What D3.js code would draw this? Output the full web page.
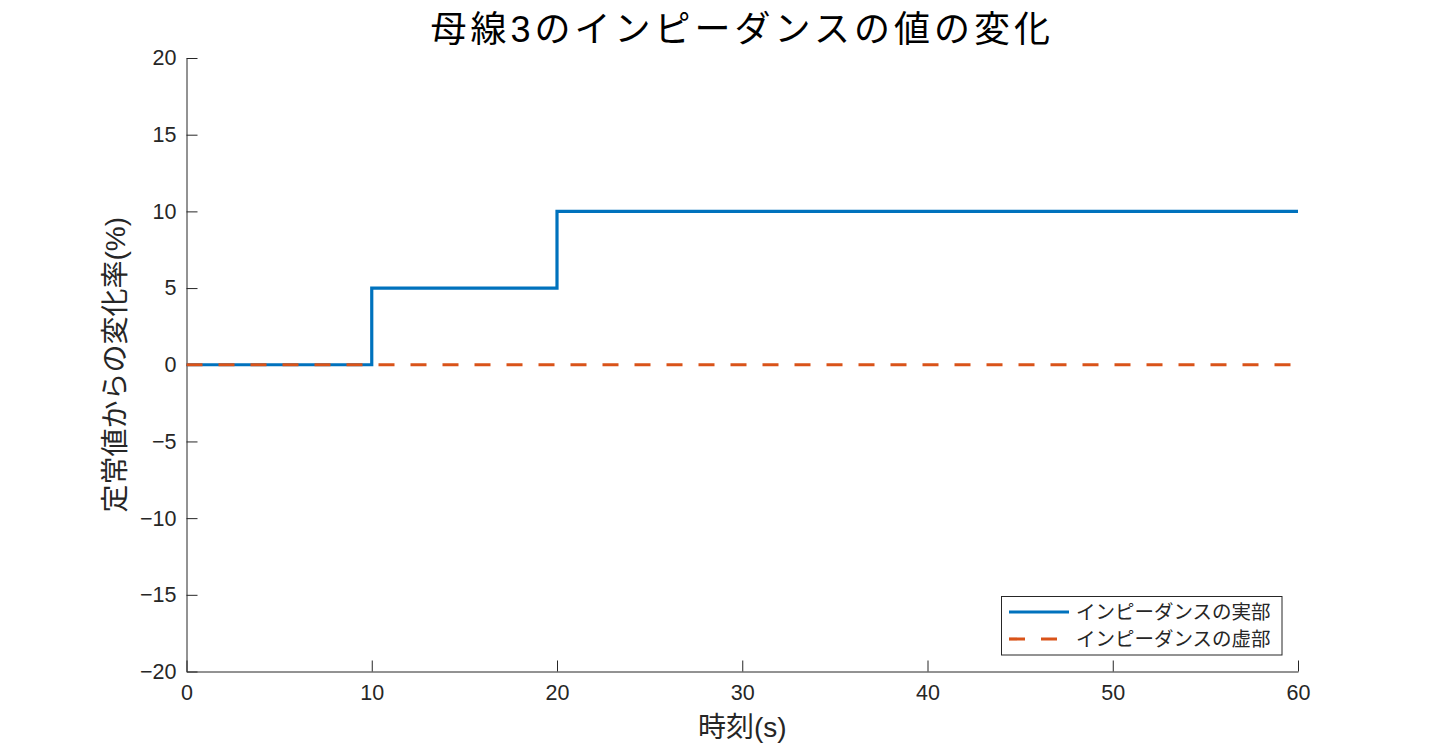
<!DOCTYPE html>
<html><head><meta charset="utf-8">
<script src="https://cdn.jsdelivr.net/npm/d3@7"></script>
<style>
body{margin:0;background:#fff;}
text{font-family:"Liberation Sans","Noto Sans CJK JP",sans-serif;fill:#262626;}
</style></head>
<body><svg id="c" width="1434" height="754"></svg>
<script>
const title = "母線3のインピーダンスの値の変化";
const xLabel = "時刻(s)";
const yLabel = "定常値からの変化率(%)";
const seriesNames = ["インピーダンスの実部","インピーダンスの虚部"];
const realT = [0,10,10,20,20,60];
const realV = [0,0,5,5,10,10];
const imagT = [0,60];
const imagV = [0,0];
const xTicks = [0,10,20,30,40,50,60];
const yTicks = [-20,-15,-10,-5,0,5,10,15,20];

const svg = d3.select("#c");
const L=186.5, R=1298, T=58, B=671.5;
const x = d3.scaleLinear().domain([0,60]).range([L,R]);
const y = d3.scaleLinear().domain([-20,20]).range([B,T]);
const fmt = d => d<0 ? "\u2212"+Math.abs(d) : String(d);

const gx = svg.append("g").attr("transform",`translate(0,${B})`)
  .call(d3.axisBottom(x).tickValues(xTicks).tickSizeInner(-11).tickSizeOuter(0).tickPadding(13).tickFormat(fmt));
const gy = svg.append("g").attr("transform",`translate(${L},0)`)
  .call(d3.axisLeft(y).tickValues(yTicks).tickSizeInner(-11).tickSizeOuter(0).tickPadding(10).tickFormat(fmt));
[gx,gy].forEach(g=>{
  g.attr("font-size",null).attr("font-family",null);
  g.select(".domain").attr("stroke","#262626").attr("stroke-width",1);
  g.selectAll(".tick line").attr("stroke","#262626");
  g.selectAll("text").style("font-size","21.5px").attr("fill","#262626").style("font-family","Liberation Sans, sans-serif");
});

const line = d3.line().x(d=>x(d[0])).y(d=>y(d[1]));
svg.append("path").datum(realT.map((t,i)=>[t,realV[i]]))
  .attr("d",line).attr("fill","none").attr("stroke","#0072BD").attr("stroke-width",3.2);
svg.append("path").datum(imagT.map((t,i)=>[t,imagV[i]]))
  .attr("d",line).attr("fill","none").attr("stroke","#D95319").attr("stroke-width",3.2)
  .attr("stroke-dasharray","16,16");

svg.append("text").attr("x",(L+R)/2).attr("y",42).attr("text-anchor","middle")
  .style("font-size","36px").style("letter-spacing","4px").style("fill","#000").text(title);
svg.append("text").attr("x",(L+R)/2).attr("y",737).attr("text-anchor","middle")
  .style("font-size","28px").text(xLabel);
svg.append("text").attr("transform",`translate(125,${(T+B)/2}) rotate(-90)`).attr("text-anchor","middle")
  .style("font-size","28px").text(yLabel);

// legend
const lg = svg.append("g");
lg.append("rect").attr("x",1001.5).attr("y",596.5).attr("width",280.5).attr("height",58.5)
  .attr("fill","#fff").attr("stroke","#262626").attr("stroke-width",1);
const colors=["#0072BD","#D95319"], dashes=[null,"16,16"];
seriesNames.forEach((n,i)=>{
  const yy = 612+i*27;
  lg.append("line").attr("x1",1009).attr("x2",1069).attr("y1",yy).attr("y2",yy)
    .attr("stroke",colors[i]).attr("stroke-width",3.2).attr("stroke-dasharray",dashes[i]);
  lg.append("text").attr("x",1076).attr("y",yy).attr("dy","0.36em").style("font-size","19.5px").text(n);
});
</script></body></html>
